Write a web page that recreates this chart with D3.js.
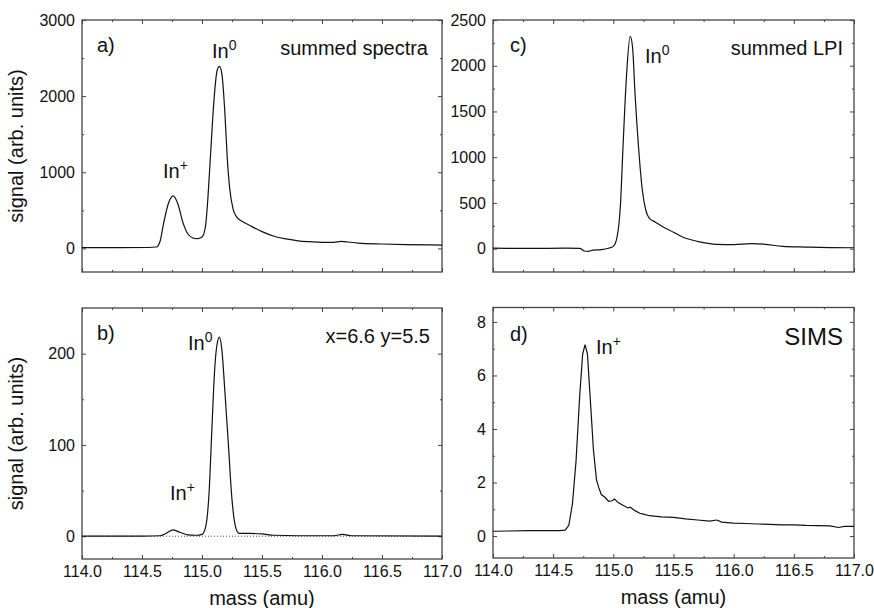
<!DOCTYPE html>
<html>
<head>
<meta charset="utf-8">
<title>In spectra</title>
<script src="https://d3js.org/d3.v7.min.js"></script>
<style>
  body { margin: 0; background: #fff; }
  text { font-family: "Liberation Sans", Arial, sans-serif; fill: #111; }
</style>
</head>
<body>
<script>
// mass axis
const massTicks = [114.0, 114.5, 115.0, 115.5, 116.0, 116.5, 117.0];
const massMinor = [114.25, 114.75, 115.25, 115.75, 116.25, 116.75];

// a) summed spectra  [mass, signal]
const summedSpectra = [
  [114.0, 10], [114.3, 10], [114.55, 12], [114.62, 18], [114.65, 90], [114.68, 330],
  [114.72, 590], [114.76, 690], [114.80, 580], [114.84, 345], [114.88, 195],
  [114.92, 140], [114.96, 128], [115.00, 150], [115.03, 300], [115.05, 680],
  [115.07, 1200], [115.10, 1950], [115.125, 2330], [115.145, 2390], [115.165, 2300],
  [115.19, 1800], [115.21, 1200], [115.23, 800], [115.26, 510], [115.29, 410],
  [115.33, 360], [115.40, 300], [115.50, 220], [115.60, 160], [115.70, 125],
  [115.80, 100], [115.90, 88], [116.00, 80], [116.10, 80], [116.16, 92],
  [116.22, 84], [116.30, 70], [116.50, 58], [116.70, 50], [116.90, 45], [117.0, 43]
];
// b) single spectrum at x=6.6 y=5.5
const singleSpectrum = [
  [114.0, 0], [114.5, 0], [114.65, 0.5], [114.70, 3], [114.76, 7], [114.82, 4],
  [114.88, 1.5], [114.95, 1], [115.00, 2], [115.03, 10], [115.06, 50], [115.08, 110],
  [115.10, 170], [115.125, 210], [115.145, 218], [115.165, 205], [115.19, 160],
  [115.22, 100], [115.25, 40], [115.28, 10], [115.31, 3], [115.40, 3], [115.50, 2.5],
  [115.60, 1], [115.80, 0.5], [116.10, 0.5], [116.17, 2], [116.25, 0.5], [117.0, 0]
];
// c) summed LPI
const summedLPI = [
  [114.0, 5], [114.3, 3], [114.6, 5], [114.72, 3], [114.76, -25], [114.79, -30],
  [114.83, -15], [114.90, -10], [114.96, 5], [115.00, 25], [115.03, 120], [115.06, 500],
  [115.08, 1100], [115.11, 1900], [115.14, 2320], [115.16, 2200], [115.18, 1700],
  [115.21, 1100], [115.24, 650], [115.27, 420], [115.30, 330], [115.35, 290],
  [115.41, 240], [115.50, 180], [115.58, 125], [115.70, 80], [115.86, 48],
  [116.00, 45], [116.15, 55], [116.25, 50], [116.41, 25], [116.60, 18], [116.80, 12], [117.0, 10]
];
// d) SIMS
const sims = [
  [114.0, 0.18], [114.3, 0.2], [114.55, 0.2], [114.60, 0.22], [114.63, 0.4], [114.66, 1.2],
  [114.69, 2.8], [114.72, 5.2], [114.745, 6.8], [114.765, 7.15], [114.785, 6.8],
  [114.81, 5.0], [114.835, 3.2], [114.86, 2.1], [114.88, 1.8], [114.90, 1.55],
  [114.93, 1.45], [114.96, 1.3], [114.99, 1.32], [115.01, 1.38], [115.04, 1.25],
  [115.08, 1.15], [115.12, 1.05], [115.14, 1.08], [115.18, 0.95], [115.22, 0.85],
  [115.25, 0.82], [115.30, 0.76], [115.40, 0.72], [115.50, 0.70], [115.60, 0.64],
  [115.70, 0.60], [115.80, 0.56], [115.86, 0.6], [115.90, 0.52], [116.00, 0.48],
  [116.10, 0.47], [116.20, 0.45], [116.30, 0.44], [116.40, 0.42], [116.50, 0.42],
  [116.60, 0.40], [116.70, 0.39], [116.80, 0.38], [116.87, 0.32], [116.92, 0.36], [117.0, 0.36]
];

const panels = [
  { id: "a", data: summedSpectra, yDomain: [-310, 3000], yTicks: [0, 1000, 2000, 3000],
    yMinor: [500, 1500, 2500], box: [82, 20, 360, 252], xLabels: false, curve: d3.curveMonotoneX,
    notes: [{ t: "a)", x: 15, y: 32 }, { t: "summed spectra", x: 346, y: 35, anchor: "end" }],
    ions: [{ base: "In", sup: "0", x: 130, y: 38 }, { base: "In", sup: "+", x: 81, y: 158 }] },
  { id: "c", data: summedLPI, yDomain: [-255, 2500], yTicks: [0, 500, 1000, 1500, 2000, 2500],
    yMinor: [250, 750, 1250, 1750, 2250], box: [493, 20, 361, 252], xLabels: false, curve: d3.curveMonotoneX,
    notes: [{ t: "c)", x: 17, y: 32 }, { t: "summed LPI", x: 350, y: 35, anchor: "end" }],
    ions: [{ base: "In", sup: "0", x: 152, y: 43 }] },
  { id: "b", data: singleSpectrum, yDomain: [-25, 250], yTicks: [0, 100, 200],
    yMinor: [50, 150], box: [82, 308, 360, 251], xLabels: true, curve: d3.curveMonotoneX, baseline: true,
    notes: [{ t: "b)", x: 15, y: 32 }, { t: "x=6.6 y=5.5", x: 348, y: 35, anchor: "end" }],
    ions: [{ base: "In", sup: "0", x: 106, y: 42 }, { base: "In", sup: "+", x: 88, y: 192 }] },
  { id: "d", data: sims, yDomain: [-0.82, 8.54], yTicks: [0, 2, 4, 6, 8],
    yMinor: [1, 3, 5, 7], box: [493, 307.5, 361, 250.5], xLabels: true, curve: d3.curveLinear,
    notes: [{ t: "d)", x: 17, y: 33 }, { t: "SIMS", x: 350, y: 37, anchor: "end", size: 24 }],
    ions: [{ base: "In", sup: "+", x: 103, y: 46 }] }
];

const svg = d3.select("body").append("svg")
  .attr("width", 874)
  .attr("height", 608);

panels.forEach(p => {
  const [left, top, w, h] = p.box;
  const g = svg.append("g").attr("transform", `translate(${left},${top})`);
  const x = d3.scaleLinear().domain([114, 117]).range([0, w]);
  const y = d3.scaleLinear().domain(p.yDomain).range([h, 0]);

  const tickStyle = sel => {
    sel.select(".domain").remove();
    sel.selectAll("line").attr("stroke", "#444").attr("stroke-width", 1);
    sel.selectAll("text").style("font-size", "16px").attr("fill", "#111");
  };

  // major and minor ticks on all four sides, pointing inward
  g.append("g").attr("transform", `translate(0,${h})`)
    .call(d3.axisBottom(x).tickValues(massTicks).tickSizeInner(-4).tickSizeOuter(0).tickPadding(7)
      .tickFormat(p.xLabels ? d3.format(".1f") : ""))
    .call(tickStyle);
  g.append("g").attr("transform", `translate(0,${h})`)
    .call(d3.axisBottom(x).tickValues(massMinor).tickSize(-2).tickFormat(""))
    .call(tickStyle);
  g.append("g")
    .call(d3.axisTop(x).tickValues(massTicks).tickSize(-4).tickFormat(""))
    .call(tickStyle);
  g.append("g")
    .call(d3.axisTop(x).tickValues(massMinor).tickSize(-2).tickFormat(""))
    .call(tickStyle);
  g.append("g")
    .call(d3.axisLeft(y).tickValues(p.yTicks).tickSizeInner(-4).tickSizeOuter(0).tickPadding(7)
      .tickFormat(d3.format("d")))
    .call(tickStyle);
  g.append("g")
    .call(d3.axisLeft(y).tickValues(p.yMinor).tickSize(-2).tickFormat(""))
    .call(tickStyle);
  g.append("g").attr("transform", `translate(${w},0)`)
    .call(d3.axisRight(y).tickValues(p.yTicks).tickSize(-4).tickFormat(""))
    .call(tickStyle);
  g.append("g").attr("transform", `translate(${w},0)`)
    .call(d3.axisRight(y).tickValues(p.yMinor).tickSize(-2).tickFormat(""))
    .call(tickStyle);

  // frame
  g.append("rect")
    .attr("width", w).attr("height", h)
    .attr("fill", "none").attr("stroke", "#444").attr("stroke-width", 1.3);

  if (p.baseline) {
    g.append("line")
      .attr("x1", x(114)).attr("x2", x(117))
      .attr("y1", y(0)).attr("y2", y(0))
      .attr("stroke", "#222").attr("stroke-width", 0.8)
      .attr("stroke-dasharray", "1,2");
  }

  const line = d3.line()
    .x(d => x(d[0]))
    .y(d => y(d[1]))
    .curve(p.curve);
  g.append("path")
    .datum(p.data)
    .attr("d", line)
    .attr("fill", "none")
    .attr("stroke", "#111")
    .attr("stroke-width", 1.2);

  p.notes.forEach(n => {
    g.append("text")
      .attr("x", n.x).attr("y", n.y)
      .attr("text-anchor", n.anchor || "start")
      .style("font-size", (n.size || 20) + "px")
      .text(n.t);
  });
  p.ions.forEach(n => {
    const t = g.append("text")
      .attr("x", n.x).attr("y", n.y)
      .style("font-size", "20px");
    t.append("tspan").text(n.base);
    t.append("tspan").attr("dy", -8).style("font-size", "14px").text(n.sup);
  });

  // y title on the left column
  if (left < 100) {
    g.append("text")
      .attr("transform", `translate(${-59},${h / 2}) rotate(-90)`)
      .attr("text-anchor", "middle")
      .style("font-size", "20px")
      .text("signal (arb. units)");
  }
  if (p.xLabels) {
    g.append("text")
      .attr("x", w / 2).attr("y", h + 46)
      .attr("text-anchor", "middle")
      .style("font-size", "20px")
      .text("mass (amu)");
  }
});
</script>
</body>
</html>
